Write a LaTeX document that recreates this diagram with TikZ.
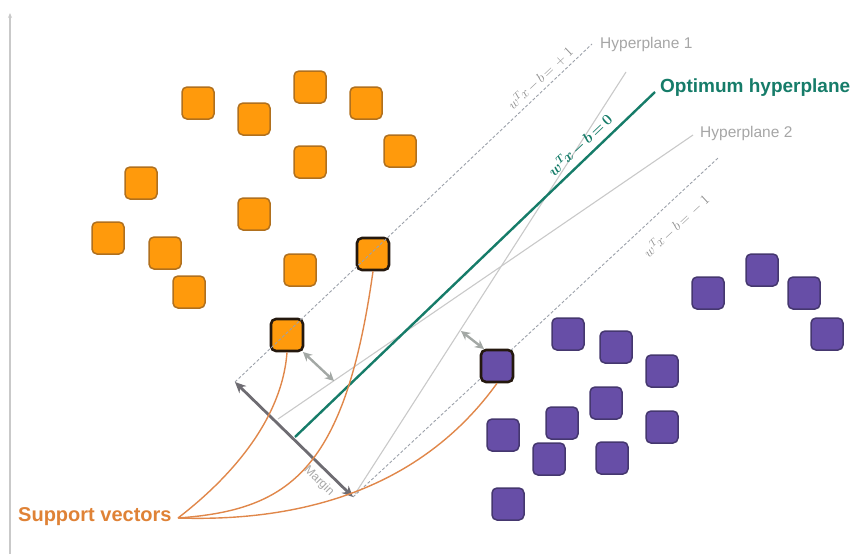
\documentclass[tikz,border=0pt]{standalone}
\usepackage{fix-cm}
\usepackage{bm}
\usepackage{fontspec}
\setmainfont{Liberation Sans}
\usetikzlibrary{arrows.meta}
\definecolor{orfill}{HTML}{FF9A0C}
\definecolor{orline}{HTML}{B0701E}
\definecolor{pufill}{HTML}{674EA7}
\definecolor{puline}{HTML}{45376F}
\definecolor{svline}{HTML}{24180E}
\definecolor{optteal}{HTML}{167C69}
\definecolor{svtext}{HTML}{DF8236}
\definecolor{svcurve}{HTML}{E0874A}
\definecolor{planegray}{HTML}{C9C9C9}
\definecolor{dashgray}{HTML}{9CA1AA}
\definecolor{margingray}{HTML}{6E6C72}
\definecolor{gapgray}{HTML}{A3A8A5}
\definecolor{labelgray}{HTML}{A6A6A6}
\definecolor{eqgray}{HTML}{8C8C8C}
\newcommand{\planeeq}[1]{w^{T}\!x\,{-}\,b\,{=}\,#1}
\begin{document}
\begin{tikzpicture}[x=1pt,y=-1pt,
  ptbase/.style={minimum size=32pt, rounded corners=5pt, inner sep=0pt, line width=1.5pt},
  orpt/.style={ptbase, draw=orline, fill=orfill},
  pupt/.style={ptbase, draw=puline, fill=pufill},
  svorpt/.style={orpt, draw=svline, line width=2.6pt},
  svpupt/.style={pupt, draw=svline, line width=2.6pt},
  plane/.style={draw=planegray, line width=1.1pt},
  bound/.style={draw=dashgray, line width=0.9pt, dash pattern=on 3pt off 2pt},
  optimum/.style={draw=optteal, line width=2.4pt},
  marginarrow/.style={draw=margingray, line width=2.8pt, {Stealth[length=11pt,width=10pt]}-{Stealth[length=11pt,width=10pt]}},
  gaparrow/.style={draw=gapgray, line width=2.4pt, {Stealth[length=9pt,width=9pt]}-{Stealth[length=9pt,width=9pt]}},
  svlink/.style={draw=svcurve, line width=1.4pt},
  planelabel/.style={text=labelgray, font=\fontsize{15.5}{17}\selectfont, anchor=west, inner sep=0pt},
  eqlabel/.style={text=eqgray, font=\fontsize{14}{15}\selectfont, inner sep=0pt},
  eqzero/.style={text=optteal, font=\fontsize{15}{16}\selectfont, inner sep=0pt}
]
\useasboundingbox (0,0) rectangle (859,555);

% vertical axis
\draw[draw=planegray, line width=1.8pt, -{Stealth[length=5pt,width=4pt]}] (10,554) -- (10,13);

% orange class
\node[orpt] (o1) at (198,103) {};
\node[orpt] (o2) at (310,87) {};
\node[orpt] (o3) at (366,103) {};
\node[orpt] (o4) at (254,119) {};
\node[orpt] (o5) at (310,162) {};
\node[orpt] (o6) at (400,151) {};
\node[orpt] (o7) at (141,183) {};
\node[orpt] (o8) at (254,214) {};
\node[orpt] (o9) at (108,238) {};
\node[orpt] (o10) at (165,253) {};
\node[orpt] (o11) at (300,270) {};
\node[orpt] (o12) at (189,292) {};
\node[svorpt] (sv1) at (287,335) {};
\node[svorpt] (sv2) at (373,254) {};

% end points of the hyperplanes
\coordinate (upA) at (235,382);
\coordinate (upB) at (592,44);
\coordinate (loA) at (353,497);
\coordinate (loB) at (718,158);
\coordinate (optA) at (295,437);
\coordinate (optB) at (655,92);
\coordinate (hAa) at (355,494);
\coordinate (hAb) at (626,72);
\coordinate (hBa) at (278,419);
\coordinate (hBb) at (693,135);

% candidate hyperplanes
\draw[plane] (hAa) -- (hAb);
\draw[plane] (hBa) -- (hBb);

% margin boundaries
\draw[bound] (upA) -- (upB);
\draw[bound] (loA) -- (loB);

% optimum separating hyperplane
\draw[optimum] (optA) -- (optB);

% labels of the planes
\node[planelabel] (lh1) at (600,44) {Hyperplane 1};
\node[planelabel] (lh2) at (700,133) {Hyperplane 2};
\node[anchor=west, inner sep=0pt, text=optteal, font=\bfseries\fontsize{19}{21}\selectfont] (lopt) at (660,88) {Optimum hyperplane};

% plane equations
\node[eqlabel, rotate=43.5] (eqp) at (540,78) {$\planeeq{+1}$};
\node[eqzero, rotate=43.5] (eqz) at (580,145) {$\bm{\planeeq{0}}$};
\node[eqlabel, rotate=43] (eqm) at (676,226) {$\planeeq{-1}$};

% purple class
\node[pupt] (p1) at (708,293) {};
\node[pupt] (p2) at (762,270) {};
\node[pupt] (p3) at (804,293) {};
\node[pupt] (p4) at (827,334) {};
\node[pupt] (p5) at (568,334) {};
\node[pupt] (p6) at (616,347) {};
\node[pupt] (p7) at (662,371) {};
\node[pupt] (p8) at (606,403) {};
\node[pupt] (p9) at (562,423) {};
\node[pupt] (p10) at (662,427) {};
\node[pupt] (p11) at (503,435) {};
\node[pupt] (p12) at (549,459) {};
\node[pupt] (p13) at (612,458) {};
\node[pupt] (p14) at (508,504) {};
\node[svpupt] (sv3) at (497,366) {};

% margin width
\draw[marginarrow] (upA) -- (loA);
\node[text=labelgray, font=\fontsize{12}{13}\selectfont, rotate=-44.5, inner sep=0pt] (mlabel) at (319,481) {Margin};

% distances from the support vectors
\coordinate (g1a) at (303,352);
\coordinate (g1b) at (334,381);
\coordinate (g2a) at (461,331);
\coordinate (g2b) at (484,349);
\draw[gaparrow] (g1a) -- (g1b);
\draw[gaparrow] (g2a) -- (g2b);

% support vector callout
\node[anchor=west, inner sep=0pt, text=svtext, font=\bfseries\fontsize{20}{22}\selectfont] (svl) at (18,517) {Support vectors};
\coordinate (svroot) at (178,518);
\draw[svlink] (svroot) .. controls (230,478) and (282,420) .. (sv1.south);
\draw[svlink] (svroot) .. controls (290,510) and (345,470) .. (sv2.south);
\draw[svlink] (svroot) .. controls (300,522) and (420,490) .. (sv3.south);
\end{tikzpicture}
\end{document}
